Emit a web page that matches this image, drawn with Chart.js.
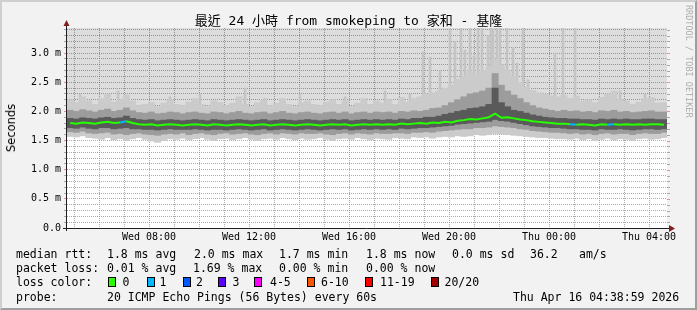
<!DOCTYPE html>
<html>
<head>
<meta charset="utf-8">
<script src="https://cdn.jsdelivr.net/npm/chart.js@4.4.1/dist/chart.umd.min.js"></script>
<style>
html, body { margin: 0; padding: 0; }
body { width: 697px; height: 310px; background: #f2f2f2; position: relative; overflow: hidden; font-family: 'DejaVu Sans Mono', monospace; }
#frame { position: absolute; left: 0; top: 0; width: 697px; height: 310px; box-sizing: border-box;
  border-top: 2px solid #cfcfcf; border-left: 2px solid #cfcfcf; border-right: 2px solid #9e9e9e; border-bottom: 2px solid #9e9e9e; pointer-events: none; }
#c { position: absolute; left: 0; top: 0; }
#title { position: absolute; left: 0; top: 13px; width: 697px; text-align: center; font: 13px 'DejaVu Sans Mono', 'Noto Sans CJK TC'; line-height: 15px; color: #000; white-space: pre; }
#ylab { position: absolute; left: 11px; top: 127.5px; transform: translate(-50%, -50%) rotate(-90deg); font: 11.5px 'DejaVu Sans'; line-height: 12px; white-space: pre; color: #000; }
#wm { position: absolute; left: 692.5px; top: 5px; transform-origin: 0 0; transform: rotate(90deg); font: 8.5px 'DejaVu Sans Mono'; line-height: 9px; color: rgba(0,0,0,0.3); white-space: pre; }
.t { position: absolute; white-space: pre; font-size: 11.5px; line-height: 14px; color: #000; }
.box { position: absolute; width: 8px; height: 10px; box-sizing: border-box; border: 1px solid #000; }
</style>
</head>
<body>
<canvas id="c" width="697" height="310"></canvas>
<div id="title">最近 24 小時 from smokeping to 家和 - 基隆</div>
<div id="ylab">Seconds</div>
<div id="wm">RRDTOOL / TOBI OETIKER</div>
<div id="legend"></div>
<div id="frame"></div>
<script>
// time axis: hours since Wed 00:00, 24h window
const xMin = 4.72, xMax = 28.72;
const yTop = 3.43;
const xLabelHours = [8, 12, 16, 20, 24, 28];
const xLabelText = ['Wed 08:00', 'Wed 12:00', 'Wed 16:00', 'Wed 20:00', 'Thu 00:00', 'Thu 04:00'];
const yLabelVals = [0, 0.5, 1, 1.5, 2, 2.5, 3];
const yLabelText = ['0.0', '0.5 m', '1.0 m', '1.5 m', '2.0 m', '2.5 m', '3.0 m'];

// median rtt (ms), one value per 15 min column
const median = [
  1.80,1.79,1.81,1.80,1.79,1.81,1.82,1.80,1.81,1.83,
  1.80,1.78,1.77,1.78,1.76,1.77,1.78,1.77,1.76,1.77,
  1.78,1.77,1.76,1.78,1.77,1.76,1.77,1.78,1.77,1.76,
  1.77,1.78,1.76,1.77,1.78,1.77,1.76,1.77,1.78,1.77,
  1.76,1.77,1.78,1.77,1.78,1.76,1.77,1.78,1.77,1.78,
  1.77,1.78,1.77,1.79,1.78,1.79,1.80,1.79,1.81,1.80,
  1.82,1.81,1.84,1.85,1.87,1.86,1.88,1.90,1.96,1.89,
  1.90,1.88,1.86,1.85,1.83,1.82,1.81,1.80,1.79,1.79,
  1.78,1.77,1.78,1.77,1.76,1.78,1.77,1.78,1.77,1.78,
  1.77,1.78,1.77,1.78,1.78,1.77
];
const lossIdx = [9, 81, 87];   // columns with 1 lost ping

// smoke bands (ms)
const outLo = [
  1.57,1.56,1.58,1.55,1.54,1.52,1.55,1.51,1.53,1.50,
  1.53,1.55,1.52,1.49,1.47,1.50,1.53,1.52,1.54,1.51,
  1.53,1.55,1.52,1.50,1.53,1.54,1.51,1.53,1.55,1.52,
  1.50,1.53,1.54,1.52,1.55,1.53,1.51,1.54,1.52,1.53,
  1.55,1.52,1.50,1.53,1.54,1.52,1.55,1.53,1.51,1.54,
  1.53,1.52,1.55,1.54,1.53,1.56,1.55,1.56,1.54,1.56,
  1.57,1.56,1.58,1.57,1.58,1.60,1.59,1.60,1.62,1.61,
  1.60,1.59,1.58,1.57,1.56,1.55,1.55,1.54,1.53,1.53,
  1.52,1.54,1.51,1.53,1.50,1.52,1.54,1.51,1.53,1.52,
  1.50,1.53,1.54,1.52,1.53,1.55
];
const midLo = [
  1.65,1.64,1.66,1.63,1.62,1.63,1.64,1.61,1.62,1.60,
  1.62,1.63,1.61,1.60,1.59,1.61,1.62,1.61,1.63,1.60,
  1.62,1.63,1.61,1.60,1.62,1.63,1.61,1.62,1.63,1.61,
  1.60,1.62,1.63,1.61,1.63,1.62,1.61,1.63,1.62,1.62,
  1.63,1.61,1.60,1.62,1.63,1.61,1.63,1.62,1.61,1.63,
  1.62,1.62,1.63,1.63,1.62,1.64,1.64,1.65,1.64,1.66,
  1.67,1.68,1.69,1.70,1.70,1.72,1.72,1.73,1.75,1.74,
  1.73,1.72,1.70,1.69,1.67,1.66,1.65,1.64,1.64,1.63,
  1.62,1.63,1.61,1.62,1.60,1.62,1.63,1.61,1.62,1.62,
  1.60,1.62,1.63,1.62,1.62,1.64
];
const coreLo = [
  1.72,1.71,1.73,1.71,1.70,1.72,1.72,1.70,1.71,1.72,
  1.70,1.70,1.69,1.69,1.68,1.69,1.70,1.69,1.69,1.69,
  1.70,1.69,1.68,1.69,1.69,1.68,1.69,1.70,1.69,1.68,
  1.69,1.70,1.68,1.69,1.70,1.69,1.68,1.69,1.70,1.69,
  1.68,1.69,1.70,1.69,1.70,1.68,1.69,1.70,1.69,1.70,
  1.69,1.70,1.69,1.71,1.70,1.71,1.72,1.72,1.73,1.74,
  1.75,1.76,1.78,1.79,1.80,1.81,1.82,1.83,1.86,1.84,
  1.83,1.81,1.79,1.77,1.75,1.74,1.73,1.72,1.72,1.71,
  1.70,1.70,1.69,1.69,1.68,1.70,1.69,1.69,1.70,1.69,
  1.68,1.69,1.70,1.70,1.69,1.70
];
const coreHi = [
  1.88,1.87,1.89,1.88,1.87,1.89,1.90,1.88,1.89,1.92,
  1.88,1.86,1.85,1.86,1.84,1.85,1.86,1.85,1.84,1.85,
  1.86,1.85,1.84,1.86,1.85,1.84,1.85,1.86,1.85,1.84,
  1.85,1.86,1.84,1.85,1.86,1.85,1.84,1.85,1.86,1.85,
  1.84,1.85,1.86,1.85,1.86,1.84,1.85,1.86,1.85,1.86,
  1.85,1.86,1.85,1.87,1.86,1.88,1.88,1.90,1.90,1.92,
  1.95,1.97,2.00,2.02,2.05,2.06,2.08,2.12,2.40,2.15,
  2.08,2.02,2.00,1.97,1.94,1.92,1.90,1.89,1.88,1.88,
  1.87,1.87,1.86,1.86,1.85,1.87,1.86,1.87,1.86,1.87,
  1.86,1.86,1.87,1.87,1.86,1.86
];
const midHi = [
  2.02,2.00,2.03,2.01,1.99,2.02,2.04,2.00,2.02,2.06,
  2.01,1.98,1.97,1.99,1.96,1.97,1.99,1.98,1.96,1.98,
  1.99,1.97,1.96,1.99,1.98,1.96,1.98,2.00,1.97,1.96,
  1.98,1.99,1.96,1.98,2.00,1.97,1.96,1.98,1.99,1.97,
  1.96,1.98,1.99,1.97,1.99,1.96,1.98,1.99,1.97,1.99,
  1.98,1.99,1.97,2.00,1.99,2.01,2.00,2.02,2.05,2.06,
  2.10,2.15,2.20,2.25,2.30,2.32,2.35,2.40,2.65,2.45,
  2.35,2.28,2.22,2.15,2.10,2.06,2.04,2.02,2.00,2.02,
  2.00,2.01,1.99,2.00,1.98,2.01,2.00,2.02,1.99,2.00,
  1.98,1.99,2.00,2.01,1.99,1.99
];
const outHi = [
  2.20,2.15,2.25,2.18,2.12,2.22,2.30,2.16,2.20,2.28,
  2.18,2.10,2.12,2.15,2.08,2.14,2.20,2.12,2.10,2.16,
  2.22,2.12,2.08,2.18,2.15,2.10,2.14,2.25,2.12,2.08,
  2.15,2.20,2.10,2.14,2.22,2.12,2.08,2.15,2.18,2.12,
  2.10,2.16,2.20,2.12,2.18,2.08,2.14,2.22,2.12,2.18,
  2.14,2.20,2.12,2.24,2.16,2.22,2.25,2.30,2.32,2.35,
  2.40,2.45,2.55,2.60,2.70,2.65,2.70,2.75,2.90,2.80,
  2.70,2.60,2.50,2.42,2.36,2.32,2.30,2.27,2.25,2.28,
  2.22,2.26,2.18,2.20,2.15,2.24,2.30,2.35,2.20,2.18,
  2.12,2.16,2.22,2.24,2.14,2.15
];

// single tall pings above the smoke
const spikeHours = [5.24, 6.76, 8.84, 10.04, 11.84, 12.64, 14.04, 15.84, 17.44, 18.44,
  18.96, 19.24, 19.64, 20.04, 20.24, 20.48, 20.64, 20.84, 21.00, 21.16,
  21.32, 21.56, 21.68, 21.76, 21.92, 22.04, 22.32, 22.56, 22.72, 22.96,
  23.16, 24.24, 24.56, 25.04, 26.32, 26.84, 27.84];
const spikeTops = [2.30, 2.35, 2.25, 2.30, 2.40, 2.22, 2.30, 2.25, 2.35, 2.30,
  3.02, 2.93, 2.70, 3.43, 3.20, 3.43, 3.05, 3.43, 2.95, 3.43,
  3.43, 3.30, 3.43, 3.43, 3.43, 3.43, 3.43, 3.10, 2.83, 3.43,
  2.54, 3.00, 3.43, 3.43, 2.30, 2.35, 2.30];

const lossNames = ['0', '1', '2', '3', '4-5', '6-10', '11-19', '20/20'];
const lossColors = ['#26ff00', '#00b8ff', '#0059ff', '#5e00ff', '#ff00ff', '#ff5500', '#ff0000', '#a10000'];

const gridC = 'rgba(143,143,143,0.75)';
const mgridC = 'rgba(222,79,79,0.6)';

const times = median.map((v, i) => xMin + 0.125 + 0.25 * i);
const gridHours = [];
for (let h = 5; h <= 28; h++) gridHours.push(h);
const yTicks = [];
for (let k = 0; k <= 34; k++) yTicks.push(k / 10);

function isHalf(v) { return Math.abs(v * 2 - Math.round(v * 2)) < 1e-6; }
function band(lo, hi) { return times.map((t, i) => ({x: t, y: [lo[i], hi[i]]})); }

const bgData = [{x: xMin, y: outLo[0]}].concat(times.map((t, i) => ({x: t, y: outLo[i]})), [{x: xMax, y: outLo[outLo.length - 1]}]);

const decor = {
  id: 'decor',
  beforeDraw(chart) {
    const a = chart.chartArea, c = chart.ctx;
    c.save();
    c.fillStyle = '#fff';
    c.fillRect(a.left, a.top, a.right - a.left, a.bottom - a.top);
    c.restore();
  },
  afterDraw(chart) {
    const a = chart.chartArea, c = chart.ctx, ys = chart.scales.y;
    c.save();
    c.lineWidth = 1;
    ys.ticks.forEach(t => {
      const py = Math.round(ys.getPixelForValue(t.value)) + 0.5;
      c.strokeStyle = isHalf(t.value) ? mgridC : gridC;
      c.beginPath(); c.moveTo(a.right, py); c.lineTo(a.right + 3, py); c.stroke();
    });
    c.strokeStyle = 'rgb(31,31,31)';
    c.beginPath(); c.moveTo(a.left - 0.5, a.bottom + 3); c.lineTo(a.left - 0.5, a.top - 6); c.stroke();
    c.beginPath(); c.moveTo(a.left - 4, a.bottom + 0.5); c.lineTo(a.right + 3, a.bottom + 0.5); c.stroke();
    c.fillStyle = 'rgb(128,31,31)';
    c.beginPath(); c.moveTo(a.left - 3.5, a.top - 2); c.lineTo(a.left + 2.5, a.top - 2); c.lineTo(a.left - 0.5, a.top - 8); c.closePath(); c.fill();
    c.beginPath(); c.moveTo(a.right + 2, a.bottom - 3); c.lineTo(a.right + 2, a.bottom + 4); c.lineTo(a.right + 8, a.bottom + 0.5); c.closePath(); c.fill();
    c.restore();
  }
};

new Chart(document.getElementById('c'), {
  type: 'bar',
  data: {
    datasets: [
      {type: 'line', data: times.map((t, i) => ({x: t, y: median[i]})), borderColor: lossColors[0], borderWidth: 2,
        pointRadius: 0, tension: 0, order: 0,
        segment: {borderColor: s => lossIdx.includes(s.p1DataIndex) ? lossColors[1] : undefined}},
      {data: band(coreLo, coreHi), backgroundColor: '#5a5a5a', barThickness: 6.25, grouped: false, order: 1},
      {data: band(midLo, midHi), backgroundColor: '#9c9c9c', barThickness: 6.25, grouped: false, order: 2},
      {data: band(outLo, outHi), backgroundColor: '#cbcbcb', barThickness: 6.25, grouped: false, order: 3},
      {data: spikeHours.map((h, i) => ({x: h, y: [1.9, spikeTops[i]]})), backgroundColor: '#c4c4c4', barThickness: 2, grouped: false, order: 4},
      {type: 'line', data: bgData, stepped: 'middle', fill: 'end', backgroundColor: 'rgba(0,0,0,0.133)',
        borderColor: 'transparent', borderWidth: 0, pointRadius: 0, order: 5}
    ]
  },
  options: {
    responsive: false,
    animation: false,
    devicePixelRatio: 1,
    events: [],
    layout: {padding: {left: 0, right: 30, top: 28, bottom: 62}},
    plugins: {legend: {display: false}, tooltip: {enabled: false}, title: {display: false}},
    scales: {
      x: {
        type: 'linear', min: xMin, max: xMax, offset: false,
        afterBuildTicks: s => { s.ticks = gridHours.map(v => ({value: v})); },
        afterFit: s => { s.height = 20; },
        ticks: {autoSkip: false, maxRotation: 0, padding: 3, color: '#000',
          font: {family: "'DejaVu Sans Mono'", size: 10},
          callback: v => { const k = xLabelHours.indexOf(v); return k < 0 ? '' : xLabelText[k]; }},
        grid: {offset: false, drawTicks: false, lineWidth: 1,
          color: c => (c.tick && c.tick.value % 2 === 0) ? mgridC : gridC},
        border: {display: false, dash: [1, 1]}
      },
      y: {
        type: 'linear', min: 0, max: yTop,
        afterBuildTicks: s => { s.ticks = yTicks.map(v => ({value: v})); },
        afterFit: s => { s.width = 67; },
        ticks: {autoSkip: false, padding: 3, color: '#000',
          font: {family: "'DejaVu Sans Mono'", size: 10},
          callback: v => { const k = yLabelVals.findIndex(q => Math.abs(q - v) < 1e-6); return k < 0 ? '' : yLabelText[k]; }},
        grid: {drawTicks: true, tickLength: 3, lineWidth: 1, tickBorderDash: [],
          color: c => (c.tick && isHalf(c.tick.value)) ? mgridC : gridC,
          tickColor: c => (c.tick && isHalf(c.tick.value)) ? mgridC : gridC},
        border: {display: false, dash: [1, 1]}
      }
    }
  },
  plugins: [decor]
});

// legend block under the graph
const lines = [
  {top: 247, parts: [[16, 'median rtt:'], [107, '1.8 ms avg'], [194, '2.0 ms max'], [279, '1.7 ms min'], [366, '1.8 ms now'], [452, '0.0 ms sd'], [530, '36.2'], [579, 'am/s']]},
  {top: 261, parts: [[16, 'packet loss:'], [107, '0.01 % avg'], [193, '1.69 % max'], [279, '0.00 % min'], [366, '0.00 % now']]},
  {top: 275, parts: [[16, 'loss color:']]},
  {top: 290, parts: [[16, 'probe:'], [107, '20 ICMP Echo Pings (56 Bytes) every 60s'], [513, 'Thu Apr 16 04:38:59 2026']]}
];
const boxX = [108, 147, 183, 218, 254, 307, 365, 431];
const boxLabelX = [122.5, 159.5, 196, 232.5, 270, 321, 380, 444.5];
const leg = document.getElementById('legend');
lines.forEach(l => l.parts.forEach(p => {
  const d = document.createElement('div');
  d.className = 't'; d.style.left = p[0] + 'px'; d.style.top = l.top + 'px'; d.textContent = p[1];
  leg.appendChild(d);
}));
lossNames.forEach((n, i) => {
  const b = document.createElement('div');
  b.className = 'box'; b.style.left = boxX[i] + 'px'; b.style.top = '277px'; b.style.background = lossColors[i];
  leg.appendChild(b);
  const d = document.createElement('div');
  d.className = 't'; d.style.left = boxLabelX[i] + 'px'; d.style.top = '275px'; d.textContent = n;
  leg.appendChild(d);
});
</script>
</body>
</html>
